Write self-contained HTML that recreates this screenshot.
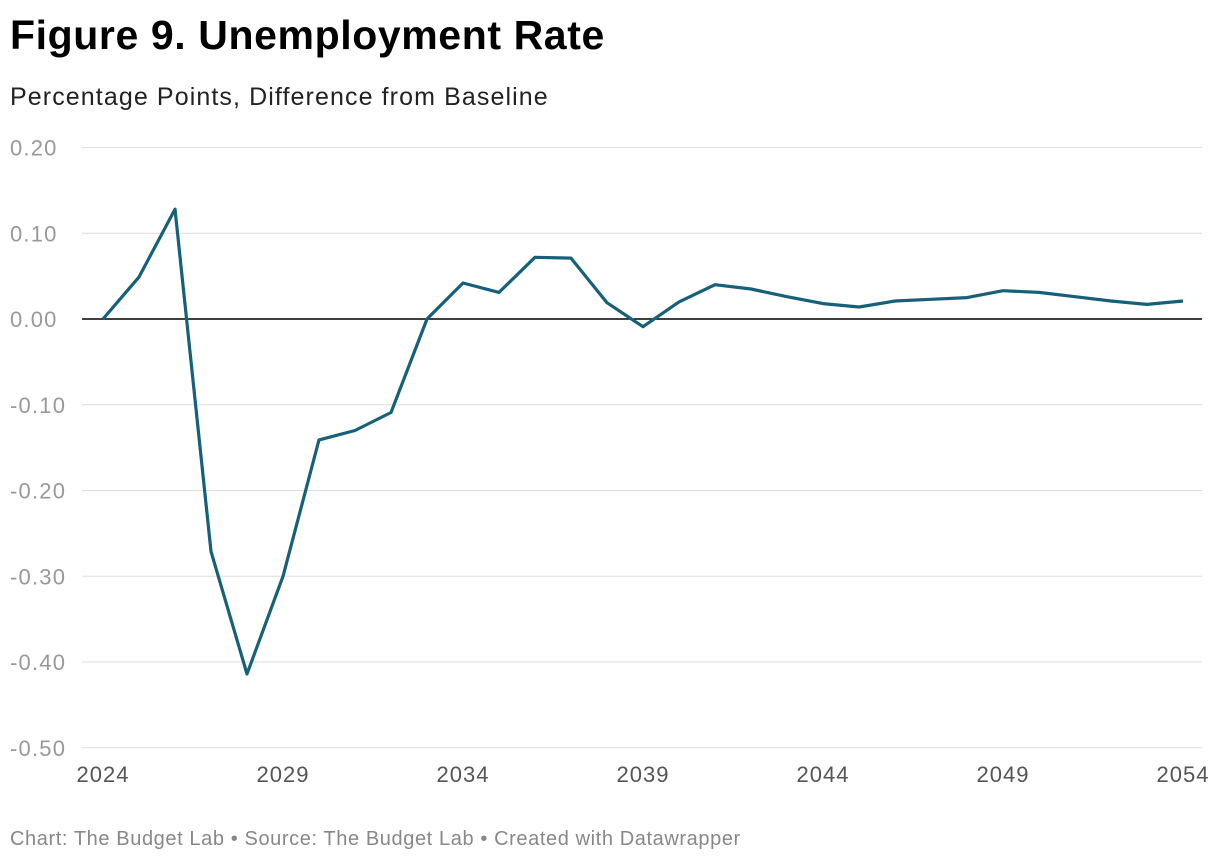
<!DOCTYPE html>
<html><head><meta charset="utf-8"><style>
body{margin:0;background:#fff;font-family:"Liberation Sans",sans-serif;}
#wrap{position:relative;width:1220px;height:864px;overflow:hidden}
h1{position:absolute;left:10px;top:12px;margin:0;font-size:41px;font-weight:bold;color:#000;letter-spacing:0.6px}
.sub{position:absolute;left:10px;top:83px;font-size:25px;color:#222;letter-spacing:1.1px}
.foot{position:absolute;left:10px;top:828px;font-size:20px;color:#888;letter-spacing:0.6px}
svg{position:absolute;left:0;top:0}
</style></head><body>
<div id="wrap">
<h1>Figure 9. Unemployment Rate</h1>
<div class="sub">Percentage Points, Difference from Baseline</div>
<svg id="chart" width="1220" height="864"></svg>
<div class="foot">Chart: The Budget Lab • Source: The Budget Lab • Created with Datawrapper</div>
</div>
<script>
const years=[2024,2025,2026,2027,2028,2029,2030,2031,2032,2033,2034,2035,2036,2037,2038,2039,2040,2041,2042,2043,2044,2045,2046,2047,2048,2049,2050,2051,2052,2053,2054];
const values=[0.000,0.049,0.128,-0.271,-0.414,-0.300,-0.141,-0.130,-0.109,0.000,0.042,0.031,0.072,0.071,0.019,-0.009,0.020,0.040,0.035,0.026,0.018,0.014,0.021,0.023,0.025,0.033,0.031,0.026,0.021,0.017,0.021];
const yTicks=[0.2,0.1,0,-0.1,-0.2,-0.3,-0.4,-0.5];
const xTicks=[2024,2029,2034,2039,2044,2049,2054];
const NS="http://www.w3.org/2000/svg";
const svg=document.getElementById('chart');
const xs=y=>103+(y-2024)*(1183-103)/30;
const ys=v=>319-v*857.5;
function mk(t,a){const e=document.createElementNS(NS,t);for(const k in a)e.setAttribute(k,a[k]);svg.appendChild(e);return e;}
yTicks.forEach(t=>{
 const g=mk('line',{x1:82,x2:1202,y1:ys(t),y2:ys(t),stroke:t===0?'#000':'#ddd','stroke-width':t===0?1.5:1});
 
 
 const l=mk('text',{x:10,y:ys(t)+8,'font-size':22,fill:'#999','letter-spacing':1.2,'font-family':'Liberation Sans, sans-serif'});
 l.textContent=t<0?'-'+Math.abs(t).toFixed(2):t.toFixed(2);
 
 
});
xTicks.forEach(t=>{
 const l=mk('text',{x:xs(t),y:782,'font-size':22,fill:'#555','text-anchor':'middle','letter-spacing':1,'font-family':'Liberation Sans, sans-serif'});
 l.textContent=t;
 
 
});
const p=mk('path',{d:values.map((v,i)=>(i?'L':'M')+xs(years[i]).toFixed(1)+','+ys(v).toFixed(1)).join(''),fill:'none',stroke:'#16607a','stroke-width':3.2,'stroke-linejoin':'round'});


</script>
</body></html>
